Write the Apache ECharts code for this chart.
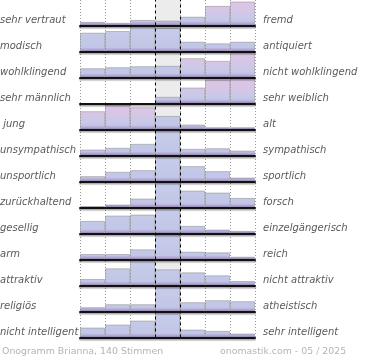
<!DOCTYPE html>
<html><head><meta charset="utf-8">
<script src="https://cdn.jsdelivr.net/npm/echarts@6/dist/echarts.min.js"></script>
<style>html,body{margin:0;padding:0;background:#fff}#c{width:370px;height:360px}</style>
</head><body><div id="c"></div>
<script>
// ---- data ----
const leftLabels = ['sehr vertraut','modisch','wohlklingend','sehr männlich',' jung','unsympathisch','unsportlich','zurückhaltend','gesellig','arm','attraktiv','religiös','nicht intelligent'];
const rightLabels = ['fremd','antiquiert','nicht wohlklingend','sehr weiblich','alt','sympathisch','sportlich','forsch','einzelgängerisch','reich','nicht attraktiv','atheistisch','sehr intelligent'];
const scaleSteps = ['1','2','3','4','5','6','7'];
const rowVertraut   = [3.7, 2.7, 5.7, 5, 9, 20, 24.5];
const rowModisch    = [18.8, 20.5, 26, 23.5, 9.8, 8.2, 9.8];
const rowWohlkl     = [9.3, 10.3, 11.3, 11.7, 19.3, 16.7, 26];
const rowMaennlich  = [0, 0, 0, 6.7, 16, 24, 25.5];
const rowJung       = [18.3, 25, 22.3, 13.6, 5, 2.3, 2.3];
const rowUnsympath  = [6, 7.7, 11.7, 26, 6.7, 7.3, 5];
const rowUnsportl   = [5.4, 9.7, 11.4, 26, 15.4, 10.4, 4];
const rowZurueck    = [1.3, 3, 9, 26, 17, 15, 9.6];
const rowGesellig   = [12.6, 18, 19, 26, 7.6, 4, 2.6];
const rowArm        = [5.5, 5.5, 10.2, 26, 7.8, 7.2, 2.8];
const rowAttraktiv  = [6.5, 17.2, 26, 16.2, 13.2, 10.2, 4.5];
const rowReligioes  = [4.3, 7.3, 7.3, 26, 9.3, 11.3, 10.3];
const rowIntell     = [10, 13, 17, 26, 8, 6.6, 4];
const rows = [rowVertraut,rowModisch,rowWohlkl,rowMaennlich,rowJung,rowUnsympath,rowUnsportl,rowZurueck,rowGesellig,rowArm,rowAttraktiv,rowReligioes,rowIntell];
const footerLeft = 'Onogramm Brianna, 140 Stimmen';
const footerRight = 'onomastik.com - 05 / 2025';

// ---- style / layout ----
const L = {left:80, width:175, top:-0.5, rowH:26, max:26, rightX:263};
const pinkBars = {0:[5,6], 2:[4,5,6], 3:[4,5,6], 4:[0,1,2]};
const FONT = '"DejaVu Sans", Verdana, sans-serif';

function grad(top, pink){
  const stops = pink ? [
    {offset:0,color:'#dfc5e5'},{offset:0.4,color:'#d6c6e6'},{offset:0.72,color:'#c9c9e8'},
    {offset:0.84,color:'#c3c4e6'},{offset:0.92,color:'#b2a8d6'},{offset:1,color:'#9a8ac2'}
  ] : [
    {offset:0,color:'#c6cde9'},{offset:0.84,color:'#c2c6e7'},{offset:0.92,color:'#b2a8d6'},{offset:1,color:'#9a8ac2'}
  ];
  return {type:'linear', x:0, y:top, x2:0, y2:top+L.rowH, global:true, colorStops:stops};
}

const grids=[], xAxes=[], yAxes=[], series=[], graphics=[];
// overlay grid: middle column shading, dotted & dashed verticals
grids.push({left:L.left, width:L.width, top:L.top, height:L.rowH*rows.length});
xAxes.push({gridIndex:0, type:'value', min:0, max:scaleSteps.length, interval:1, axisLine:{show:false}, axisTick:{show:false}, axisLabel:{show:false},
  splitLine:{show:true, lineStyle:{color:'#9a9a9a', type:[1,2], width:1}}});
yAxes.push({gridIndex:0, type:'value', min:0, max:1, show:false});
series.push({type:'line', xAxisIndex:0, yAxisIndex:0, data:[], silent:true,
  markArea:{silent:true, itemStyle:{color:'#ececec'}, data:[[{xAxis:3},{xAxis:4}]]},
  markLine:{silent:true, symbol:'none', label:{show:false}, lineStyle:{color:'#000', type:[3,3], width:1}, data:[{xAxis:3},{xAxis:4}]}
});

rows.forEach((vals, i) => {
  const gi = i + 1;
  const top = L.top + i*L.rowH;
  grids.push({left:L.left, width:L.width, top:top, height:L.rowH});
  xAxes.push({gridIndex:gi, type:'category', data:scaleSteps, boundaryGap:true, z:6,
    axisLine:{show:true, onZero:false, lineStyle:{color:'#111', width:2, shadowColor:'rgba(0,0,0,0.35)', shadowBlur:1, shadowOffsetY:1.5}},
    axisTick:{show:false}, axisLabel:{show:false}, splitLine:{show:false}});
  yAxes.push({gridIndex:gi, type:'value', min:0, max:L.max, show:false});
  const pk = pinkBars[i] || [];
  series.push({type:'bar', xAxisIndex:gi, yAxisIndex:gi, barCategoryGap:'0%', silent:true, z:2,
    data: vals.map((v, j) => ({value:v, itemStyle:{color:grad(top, pk.indexOf(j) >= 0)}})),
    itemStyle:{borderColor:'rgba(120,120,120,0.42)', borderWidth:1}
  });
  const cy = top + L.rowH - 5;
  graphics.push({type:'text', x:0, y:cy, silent:true, style:{text:leftLabels[i], font:'italic 10px '+FONT, fill:'#5a5a5a', align:'left', verticalAlign:'middle'}});
  graphics.push({type:'text', x:L.rightX, y:cy, silent:true, style:{text:rightLabels[i], font:'italic 10px '+FONT, fill:'#5a5a5a', align:'left', verticalAlign:'middle'}});
});
graphics.push({type:'text', x:2, y:352, silent:true, style:{text:footerLeft, font:'9.4px '+FONT, fill:'#b4b4b4', align:'left', verticalAlign:'middle'}});
graphics.push({type:'text', x:220, y:352, silent:true, style:{text:footerRight, font:'9.4px '+FONT, fill:'#b4b4b4', align:'left', verticalAlign:'middle'}});

const chart = echarts.init(document.getElementById('c'), null, {renderer:'canvas'});
chart.setOption({animation:false, backgroundColor:'#fff', grid:grids, xAxis:xAxes, yAxis:yAxes, series:series, graphic:graphics});
</script></body></html>
